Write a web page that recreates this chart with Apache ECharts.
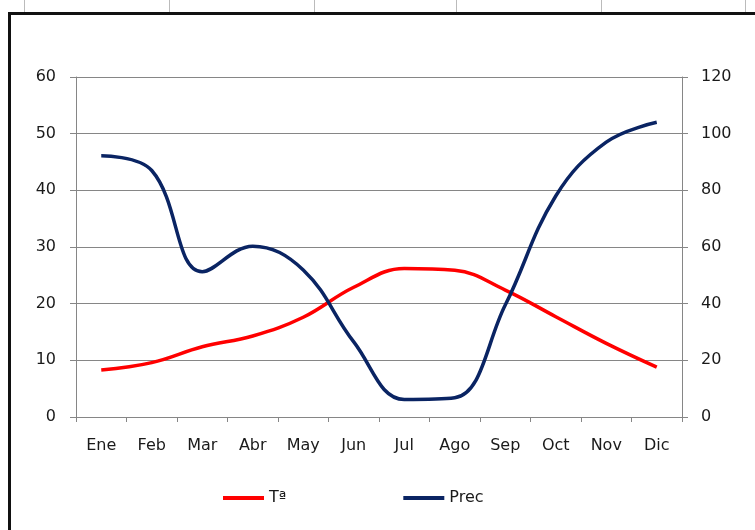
<!DOCTYPE html>
<html>
<head>
<meta charset="utf-8">
<script src="https://cdn.jsdelivr.net/npm/echarts@6/dist/echarts.min.js"></script>
<style>
  html, body { margin: 0; padding: 0; background: #fff; }
  #wrap { position: relative; width: 755px; height: 530px; overflow: hidden; }
  #frame { position: absolute; left: 8px; top: 12px; width: 800px; height: 600px;
           border-left: 3px solid #111; border-top: 3px solid #111; }
  .col { position: absolute; top: 0; width: 1px; height: 12px; background: #bbb; }
  #main { position: absolute; left: 0; top: 0; width: 755px; height: 530px; }
</style>
</head>
<body>
<div id="wrap">
  <div id="frame"></div>
  <div class="col" style="left:24px"></div>
  <div class="col" style="left:169px"></div>
  <div class="col" style="left:314px"></div>
  <div class="col" style="left:456px"></div>
  <div class="col" style="left:601px"></div>
  <div class="col" style="left:745px"></div>
  <div id="main"></div>
</div>
<script>
// datos
var months = ['Ene', 'Feb', 'Mar', 'Abr', 'May', 'Jun', 'Jul', 'Ago', 'Sep', 'Oct', 'Nov', 'Dic'];
var temp = [8.3, 9.6, 12.4, 14.3, 17.6, 22.9, 26.2, 25.9, 22.4, 17.7, 13.0, 8.8];
var prec = [92.2, 87, 51.3, 60.3, 51.9, 26.5, 6.2, 6.8, 39.5, 78, 97, 104];
var leftTicks = [0, 60, 10];
var rightTicks = [0, 120, 20];

var grey = '#868686';
var font = '"DejaVu Sans", Verdana, sans-serif';

var myChart = echarts.init(document.getElementById('main'));

function yAxis(t, pos) {
    return {
        type: 'value',
        position: pos,
        min: t[0],
        max: t[1],
        interval: t[2],
        axisLine: { show: true, lineStyle: { color: grey, width: 1 } },
        axisTick: { show: true, length: 6, lineStyle: { color: grey } },
        axisLabel: { margin: pos == 'left' ? 20 : 19, color: '#1a1a1a', fontSize: 16, fontFamily: font },
        splitLine: { show: pos == 'left', lineStyle: { color: grey, width: 1 } }
    };
}

var option = {
    animation: false,
    backgroundColor: 'transparent',
    grid: { left: 76, right: 73, top: 77, bottom: 113 },
    legend: {
        left: 218,
        top: 485,
        itemGap: 117,
        icon: 'rect',
        itemWidth: 41,
        itemHeight: 4,
        textStyle: { color: '#1a1a1a', fontSize: 16, fontFamily: font },
        data: ['Tª', 'Prec']
    },
    xAxis: {
        type: 'category',
        data: months,
        boundaryGap: true,
        axisLine: { lineStyle: { color: grey, width: 1 } },
        axisTick: { show: true, length: 5, lineStyle: { color: grey } },
        axisLabel: { margin: 21, color: '#1a1a1a', fontSize: 16, fontFamily: font, interval: 0 },
        splitLine: { show: false }
    },
    yAxis: [yAxis(leftTicks, 'left'), yAxis(rightTicks, 'right')],
    series: [
        {
            name: 'Tª',
            type: 'line',
            yAxisIndex: 0,
            data: temp,
            smooth: 0.4,
            showSymbol: false,
            lineStyle: { color: '#ff0000', width: 3.5 },
            itemStyle: { color: '#ff0000' }
        },
        {
            name: 'Prec',
            type: 'line',
            yAxisIndex: 1,
            data: prec,
            smooth: 0.4,
            showSymbol: false,
            lineStyle: { color: '#0a2463', width: 3.5 },
            itemStyle: { color: '#0a2463' }
        }
    ]
};

myChart.setOption(option);
</script>
</body>
</html>
